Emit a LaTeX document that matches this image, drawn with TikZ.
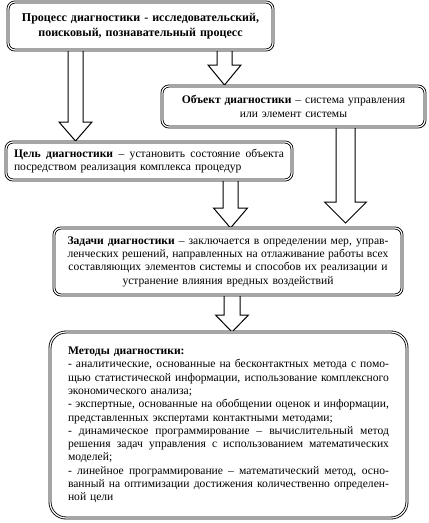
\documentclass[tikz,border=0pt]{standalone}
\usepackage{fontspec}
\setmainfont{Liberation Serif}
\usetikzlibrary{calc}

% justified line of a box
\newcommand{\jl}[2][321pt]{\makebox[#1][s]{\spaceskip=0.25em plus 1em minus 0.12em\xspaceskip=\spaceskip #2}}
% block arrow: x, from, to, half shaft, half head, head length
\newcommand{\blockarrow}[6]{%
  \draw[blockarr] let \p0=(#1,0), \p1=(#2), \p2=(#3) in
    (\x0-#4pt,\y1) -- (\x0-#4pt,\y2+#6pt) -- (\x0-#5pt,\y2+#6pt) -- (\x0,\y2)
    -- (\x0+#5pt,\y2+#6pt) -- (\x0+#4pt,\y2+#6pt) -- (\x0+#4pt,\y1);}

\begin{document}
\begin{tikzpicture}[
  x=1pt, y=-1pt,
  box/.style={draw,double,double distance=1.2pt,line width=0.85pt,
    rounded corners=7pt,fill=white,inner sep=0pt,
    font=\fontsize{11.6}{13.3}\selectfont},
  blockarr/.style={draw,fill=white,line width=1pt,line join=miter}
]
\useasboundingbox (0,0) rectangle (429,523);

% --- Block arrows ---
\blockarrow{75.5}{8,50}{75.5,141}{7.5}{16.5}{19}
\blockarrow{224.5}{8,50}{224.5,85}{7.5}{16.5}{20}
\blockarrow{230.5}{6,180}{230.5,228}{7.5}{17}{20}
\blockarrow{345.5}{6,127}{345.5,223}{9.5}{21}{21}
\blockarrow{232}{6,295}{232,332}{8}{16.5}{17}

% --- Boxes ---
\node[box,minimum width=265pt,minimum height=48pt,text width=250pt,align=center,
  font=\bfseries\fontsize{12}{15}\selectfont] (proc) at (140.5,26)
  {Процесс диагностики - исследовательский,\\поисковый, познавательный процесс};
\node[box,minimum width=263pt,minimum height=41pt,text width=245pt,align=center,
  font=\fontsize{11.6}{14.5}\selectfont] (obj) at (293.5,106.5)
  {\textbf{Объект диагностики} – система управления\\или элемент системы};
\node[box,minimum width=286pt,minimum height=38pt,text width=270pt,align=left] (goal) at (149,161)
  {\jl[270pt]{\textbf{Цель диагностики} – установить состояние объекта}\\
   посредством реализация комплекса процедур};
\node[box,minimum width=348pt,minimum height=67pt,text width=321pt,align=center] (task) at (228,261.5)
  {\jl{\textbf{Задачи диагностики} – заключается в определении мер, управ-}\\
   \jl{ленческих решений, направленных на отлаживание работы всех}\\
   составляющих элементов системы и способов их реализации и\\
   устранение влияния вредных воздействий};
\node[box,rounded corners=16pt,minimum width=357pt,minimum height=186pt,text width=321pt,align=left] (meth) at (228.5,425)
  {\textbf{Методы диагностики:}\\
   \jl{- аналитические, основанные на бесконтактных метода с помо-}\\
   \jl{щью статистической информации, использование комплексного}\\
   экономического анализа;\\
   \jl{- экспертные, основанные на обобщении оценок и информации,}\\
   представленных экспертами контактными методами;\\
   \jl{- динамическое программирование – вычислительный метод}\\
   \jl{решения задач управления с использованием математических}\\
   моделей;\\
   \jl{- линейное программирование – математический метод, осно-}\\
   \jl{ванный на оптимизации достижения количественно определен-}\\
   ной цели};

\end{tikzpicture}
\end{document}
